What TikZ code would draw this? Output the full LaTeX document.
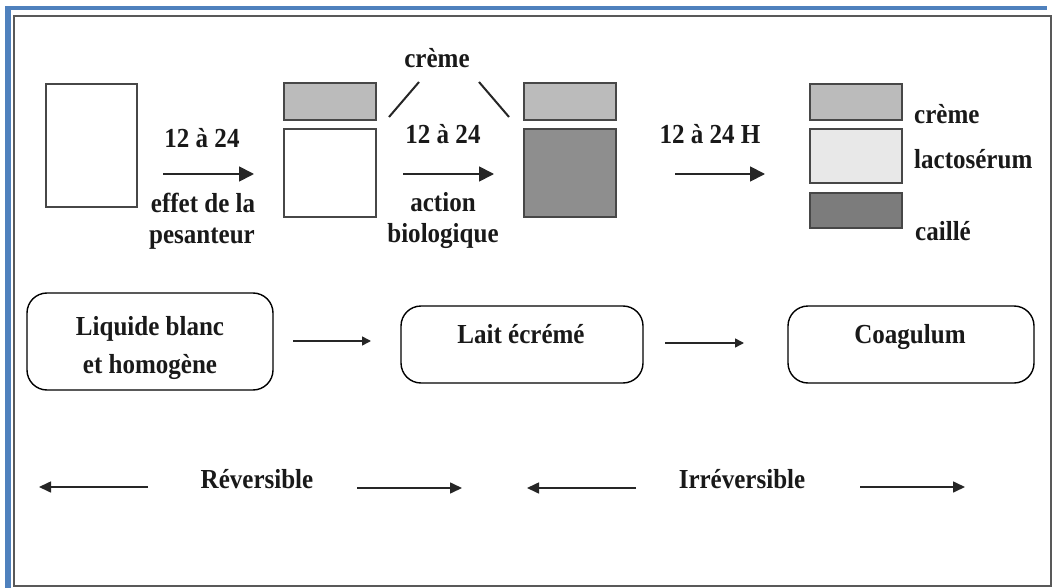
\documentclass[tikz,border=0pt]{standalone}
\usepackage{fontspec}
\setmainfont{Liberation Serif}[FakeStretch=0.91]
\usetikzlibrary{arrows.meta}
\definecolor{framblue}{HTML}{4F81BD}
\definecolor{cremegray}{HTML}{BBBBBB}
\definecolor{darkgray1}{HTML}{8E8E8E}
\definecolor{lightgray1}{HTML}{E8E8E8}
\definecolor{darkgray2}{HTML}{7C7C7C}
\begin{document}
\begin{tikzpicture}[x=1pt,y=-1pt,
  lbl/.style={font=\fontsize{27.5}{38}\selectfont\bfseries, inner sep=0pt, text=black!90, text height=19pt, text depth=0pt},
  tube/.style={draw=black!72, line width=2pt, anchor=north west, inner sep=0pt},
  rbox/.style={draw=black, line width=1.4pt, rounded corners=20pt, inner sep=0pt},
  bigarrow/.style={line width=1.8pt, draw=black!85, -{Triangle[length=15pt,width=15pt]}},
  midarrow/.style={line width=1.6pt, draw=black!85, -{Triangle[length=9pt,width=9pt]}},
  lowarrow/.style={line width=1.6pt, draw=black!85, -{Triangle[length=12pt,width=11pt]}},
  tick/.style={line width=2pt, draw=black!85}]
\useasboundingbox (0,0) rectangle (1054,588);
% frame
\fill[framblue] (5,6) rectangle (1047,10.5);
\fill[framblue] (5,6) rectangle (10.5,588);
\draw[black!65, line width=2pt] (13.5,16.5) rectangle (1051,586);

% top row tubes
\node[tube, minimum width=91pt, minimum height=123pt] (t1) at (45,83) {};
\node[tube, fill=cremegray, minimum width=92pt, minimum height=37pt] (t2c) at (283,82) {};
\node[tube, fill=white, minimum width=92pt, minimum height=88pt] (t2w) at (283,128) {};
\node[tube, fill=cremegray, minimum width=92pt, minimum height=37pt] (t3c) at (523,82) {};
\node[tube, fill=darkgray1, minimum width=92pt, minimum height=88pt] (t3d) at (523,128) {};
\node[tube, fill=cremegray, minimum width=92pt, minimum height=36pt] (t4c) at (809,83) {};
\node[tube, fill=lightgray1, minimum width=92pt, minimum height=54pt] (t4l) at (809,128) {};
\node[tube, fill=darkgray2, minimum width=92pt, minimum height=35pt] (t4d) at (809,192) {};

% labels top
\node[lbl] (n1) at (202,138) {12 à 24};
\node[lbl] (e1) at (203,203) {effet de la};
\node[lbl] (e2) at (202,234) {pesanteur};
\node[lbl] (cr) at (437,58) {crème};
\node[lbl] (n2) at (443,134) {12 à 24};
\node[lbl] (a1) at (443,202) {action};
\node[lbl] (a2) at (443,233) {biologique};
\node[lbl] (n3) at (710,134) {12 à 24 H};
\node[lbl, anchor=west] (l1) at (914,114) {crème};
\node[lbl, anchor=west] (l2) at (914,159) {lactosérum};
\node[lbl, anchor=west] (l3) at (915,231) {caillé};

% top arrows
\coordinate (p1s) at (163,174); \coordinate (p1e) at (254,174);
\coordinate (p2s) at (403,174); \coordinate (p2e) at (494,174);
\coordinate (p3s) at (675,174); \coordinate (p3e) at (765,174);
\draw[bigarrow] (p1s) -- (p1e);
\draw[bigarrow] (p2s) -- (p2e);
\draw[bigarrow] (p3s) -- (p3e);

% creme ticks
\coordinate (k1a) at (389,117); \coordinate (k1b) at (419,82);
\coordinate (k2a) at (479,82); \coordinate (k2b) at (509,117);
\draw[tick] (k1a) -- (k1b);
\draw[tick] (k2a) -- (k2b);

% rounded boxes
\node[rbox, minimum width=246pt, minimum height=97pt] (bA) at (150,341.5) {};
\node[lbl] (tA1) at (150,326) {Liquide blanc};
\node[lbl] (tA2) at (150,364) {et homogène};
\node[rbox, minimum width=242pt, minimum height=77pt] (bB) at (522,344.5) {};
\node[lbl] (tB) at (521,334) {Lait écrémé};
\node[rbox, minimum width=246pt, minimum height=77pt] (bC) at (911,344.5) {};
\node[lbl] (tC) at (910,334) {Coagulum};

\coordinate (m1s) at (293,341); \coordinate (m1e) at (371,341);
\coordinate (m2s) at (665,343); \coordinate (m2e) at (744,343);
\draw[midarrow] (m1s) -- (m1e);
\draw[midarrow] (m2s) -- (m2e);

% bottom
\node[lbl] (rev) at (257,479) {Réversible};
\node[lbl] (irr) at (742,479) {Irréversible};
\coordinate (r1s) at (148,487); \coordinate (r1e) at (39,487);
\coordinate (r2s) at (357,488); \coordinate (r2e) at (462,488);
\coordinate (r3s) at (636,488); \coordinate (r3e) at (527,488);
\coordinate (r4s) at (860,487); \coordinate (r4e) at (965,487);
\draw[lowarrow] (r1s) -- (r1e);
\draw[lowarrow] (r2s) -- (r2e);
\draw[lowarrow] (r3s) -- (r3e);
\draw[lowarrow] (r4s) -- (r4e);
\end{tikzpicture}
\end{document}
